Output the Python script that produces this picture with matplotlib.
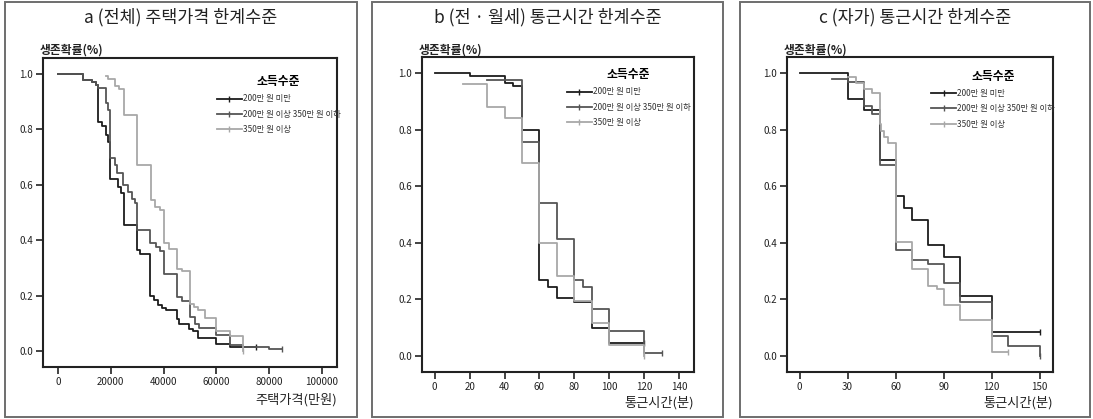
import matplotlib
matplotlib.use("Agg")
import matplotlib.pyplot as plt
from matplotlib.lines import Line2D
from matplotlib.patches import Rectangle

plt.rcParams['font.family'] = ['Noto Sans CJK KR', 'DejaVu Sans']

# ---- data ----
labels = ["200만 원 미만", "200만 원 이상 350만 원 이하", "350만 원 이상"]
legend_title = "소득수준"
titles = ["a (전체) 주택가격 한계수준", "b (전 · 월세) 통근시간 한계수준", "c (자가) 통근시간 한계수준"]
xlabels = ["주택가격(만원)", "통근시간(분)", "통근시간(분)"]
ylabel = "생존확률(%)"

# panel a: house price
a_low_x = [0, 9500, 12700, 14200, 15000, 16500, 18200, 19000, 19700, 22800, 24000, 25000, 30000, 31000,
           35000, 36500, 38000, 39500, 41000, 45000, 46000, 49700, 51000, 53000, 60000, 65000, 75000]
a_low_y = [1.0, 0.978, 0.969, 0.96, 0.825, 0.81, 0.78, 0.755, 0.62, 0.59, 0.57, 0.455, 0.365, 0.35,
           0.199, 0.185, 0.167, 0.158, 0.148, 0.118, 0.10, 0.082, 0.072, 0.048, 0.028, 0.016, 0.016]
a_mid_x = [0, 9500, 12700, 14200, 15000, 18200, 19000, 19700, 21600, 22500, 24700, 26600, 28000, 29000,
           30000, 35000, 37000, 38500, 40000, 45000, 47000, 50000, 52000, 53500, 60000, 65000, 70000, 80000, 85000]
a_mid_y = [1.0, 0.978, 0.969, 0.96, 0.948, 0.894, 0.87, 0.696, 0.67, 0.641, 0.60, 0.575, 0.55, 0.533,
           0.437, 0.39, 0.375, 0.36, 0.278, 0.196, 0.18, 0.124, 0.10, 0.084, 0.058, 0.022, 0.016, 0.008, 0.008]
a_high_x = [18200, 19000, 21600, 23000, 25000, 30000, 35100, 36800, 38500, 40000, 42000, 45000, 47000,
            50000, 51500, 53000, 55500, 60000, 65000, 70000]
a_high_y = [0.993, 0.98, 0.954, 0.945, 0.852, 0.671, 0.545, 0.52, 0.51, 0.389, 0.37, 0.298, 0.29,
            0.172, 0.16, 0.15, 0.12, 0.073, 0.054, 0.0]

# panel b: commute time (rent)
b_low_x = [0, 20, 40, 45, 50, 60, 65, 70, 80, 90, 100, 120]
b_low_y = [1.0, 0.988, 0.965, 0.953, 0.80, 0.27, 0.244, 0.206, 0.192, 0.10, 0.047, 0.047]
b_mid_x = [30, 50, 60, 70, 80, 85, 90, 100, 120, 130]
b_mid_y = [0.974, 0.757, 0.54, 0.413, 0.27, 0.244, 0.165, 0.088, 0.012, 0.012]
b_high_x = [16, 30, 40, 50, 60, 70, 80, 90, 100, 120]
b_high_y = [0.96, 0.88, 0.842, 0.681, 0.40, 0.282, 0.195, 0.118, 0.04, 0.0]

# panel c: commute time (owner)
c_low_x = [0, 30, 40, 50, 60, 65, 70, 80, 90, 100, 120, 150]
c_low_y = [1.0, 0.909, 0.87, 0.694, 0.567, 0.524, 0.479, 0.394, 0.349, 0.214, 0.086, 0.086]
c_mid_x = [20, 30, 40, 45, 50, 60, 70, 80, 90, 100, 120, 130, 150]
c_mid_y = [0.98, 0.967, 0.882, 0.855, 0.676, 0.373, 0.338, 0.324, 0.259, 0.19, 0.07, 0.035, 0.0]
c_high_x = [30, 35, 40, 45, 50, 51, 53, 55, 60, 70, 80, 86, 90, 100, 120, 130]
c_high_y = [0.985, 0.965, 0.943, 0.93, 0.82, 0.794, 0.775, 0.753, 0.404, 0.308, 0.249, 0.238, 0.179,
            0.127, 0.014, 0.014]

xticks = [list(range(0, 100001, 20000)), list(range(0, 141, 20)), list(range(0, 151, 30))]
xlims = [(-5700, 105700), (-7.3, 148.6), (-7.9, 158.3)]
yticks = [0.0, 0.2, 0.4, 0.6, 0.8, 1.0]

series = [
    [(a_low_x, a_low_y), (a_mid_x, a_mid_y), (a_high_x, a_high_y)],
    [(b_low_x, b_low_y), (b_mid_x, b_mid_y), (b_high_x, b_high_y)],
    [(c_low_x, c_low_y), (c_mid_x, c_mid_y), (c_high_x, c_high_y)],
]
colors = ["#1c1c1c", "#555555", "#a8a8a8"]

W, H = 1093, 419
fig = plt.figure(figsize=(W / 100, H / 100), dpi=100)

# axes boxes in pixels: left, right, top, bottom
boxes = [(43, 337, 58, 367), (422, 694, 57, 372), (787, 1053, 57, 372)]
# panel borders in pixels: left, right, top, bottom
borders = [(5, 357, 2, 417), (372, 723, 2, 417), (740, 1090, 2, 417)]
legend_anchor = [(0.58, 0.955), (0.52, 0.975), (0.53, 0.97)]

for i in range(3):
    bl, br, bt, bb = borders[i]
    fig.patches.append(Rectangle((bl / W, 1 - bb / H), (br - bl) / W, (bb - bt) / H,
                                 transform=fig.transFigure, fill=False, edgecolor="#6e6e6e", lw=1.4))
    fig.text((bl + br) / 2 / W, 1 - 17 / H, titles[i], ha="center", va="center", fontsize=12.5, color="#222222")

    l, r, t, b = boxes[i]
    ax = fig.add_axes([l / W, 1 - b / H, (r - l) / W, (b - t) / H])
    for (xs, ys), col in zip(series[i], colors):
        ax.step(xs, ys, where="post", color=col, lw=1.3)
        ax.plot([xs[-1]], [ys[-1]], marker="|", color=col, ms=5, mew=1.0)

    ax.set_xlim(*xlims[i])
    ax.set_ylim(-0.056, 1.056)
    ax.set_xticks(xticks[i])
    ax.set_yticks(yticks)
    ax.set_yticklabels([f"{v:.1f}" for v in yticks])
    ax.tick_params(direction="out", length=5, width=1.2, labelsize=7, pad=2, colors="#222222",
                   top=False, right=False)
    for s in ax.spines.values():
        s.set_linewidth(1.5)
        s.set_color("#222222")

    fig.text((l - 3) / W, 1 - 50 / H, ylabel, ha="left", va="center", fontsize=8.5,
             fontweight="bold", color="#222222")
    fig.text(r / W, 1 - (400 if i == 0 else 403) / H, xlabels[i], ha="right", va="center",
             fontsize=9.5, color="#222222")

    handles = [Line2D([0], [0], color=c, lw=1.3, marker="|", ms=4, mew=1.0) for c in colors]
    leg = ax.legend(handles, labels, title=legend_title, loc="upper left",
                    bbox_to_anchor=legend_anchor[i], frameon=False, fontsize=6,
                    handlelength=3.0, handletextpad=0.1, labelspacing=0.75, borderaxespad=0,
                    numpoints=1, title_fontproperties={"weight": "bold", "size": 8.5})
    for txt in leg.get_texts():
        txt.set_color("#333333")

fig.savefig("out.png", dpi=100)
plt.close(fig)
